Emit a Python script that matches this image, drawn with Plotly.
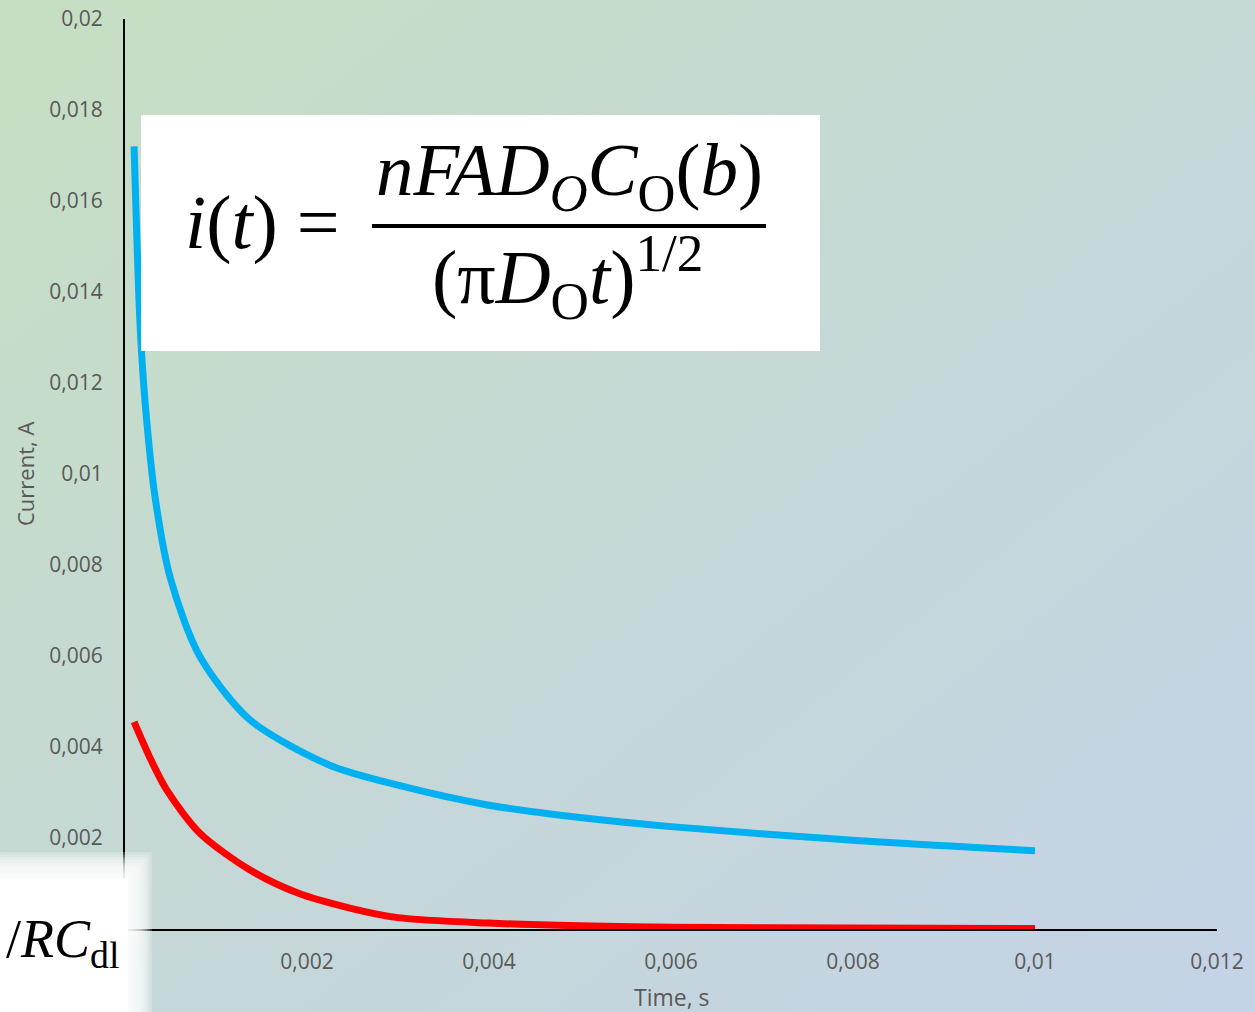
import base64
import plotly.graph_objects as go

# ---- data ----
t_blue = [0.0001, 0.000165, 0.00022, 0.00033, 0.0005, 0.00082, 0.00137, 0.00225, 0.003, 0.004, 0.005, 0.006, 0.008, 0.01]
i_blue = [0.0172, 0.0133, 0.0116, 0.0095, 0.0077, 0.0060, 0.0046, 0.0036, 0.00316, 0.00272, 0.00245, 0.00225, 0.00195, 0.00172]

t_red = [0.0001, 0.00027, 0.00046, 0.00082, 0.00137, 0.0019, 0.00247, 0.003, 0.004, 0.005, 0.006, 0.008, 0.01]
i_red = [0.00455, 0.00378, 0.00305, 0.00211, 0.0013, 0.00079, 0.00046, 0.00025, 0.00013, 0.00007, 0.00004, 0.00002, 0.00001]

# the "0" ticks are hidden under the white patch in the reference
x_tickvals = [0.002, 0.004, 0.006, 0.008, 0.01, 0.012]
x_ticktext = ["0,002", "0,004", "0,006", "0,008", "0,01", "0,012"]
y_tickvals = [0.002, 0.004, 0.006, 0.008, 0.01, 0.012, 0.014, 0.016, 0.018, 0.02]
y_ticktext = ["0,002", "0,004", "0,006", "0,008", "0,01", "0,012", "0,014", "0,016", "0,018", "0,02"]

W, H = 1255, 1012

def px(x):
    return x / W

def py(y):
    return 1 - y / H

svg = (
    '<svg xmlns="http://www.w3.org/2000/svg" width="1255" height="1012" preserveAspectRatio="none">'
    '<defs><linearGradient id="g" x1="0" y1="0" x2="1" y2="1">'
    '<stop offset="0" stop-color="#c6dfc2"/><stop offset="0.5" stop-color="#c5d8d6"/>'
    '<stop offset="1" stop-color="#c5d3e7"/></linearGradient></defs>'
    '<rect width="1255" height="1012" fill="url(#g)"/></svg>'
)
svg_uri = "data:image/svg+xml;base64," + base64.b64encode(svg.encode()).decode()

fig = go.Figure()
fig.add_trace(go.Scatter(x=t_blue, y=i_blue, mode="lines",
                         line=dict(color="#00B0F0", width=7, shape="spline", smoothing=0.8),
                         showlegend=False))
fig.add_trace(go.Scatter(x=t_red, y=i_red, mode="lines",
                         line=dict(color="#FF0000", width=7, shape="spline", smoothing=0.8),
                         showlegend=False))

tickfont = dict(family="Open Sans", size=21, color="#595959")

fig.update_layout(
    width=W, height=H, autosize=False,
    margin=dict(l=0, r=0, t=0, b=0, pad=0, autoexpand=False),
    paper_bgcolor="#c5d9d5",
    plot_bgcolor="rgba(0,0,0,0)",
    separators=",.",
    showlegend=False,
    xaxis=dict(domain=[px(125), px(1217)], range=[0, 0.012], tickvals=x_tickvals, ticktext=x_ticktext,
               showgrid=False, zeroline=False, showline=True, linecolor="black", linewidth=2,
               ticks="", tickfont=tickfont, ticklabelstandoff=13, automargin=False),
    yaxis=dict(domain=[py(929), py(19)], range=[0, 0.02], tickvals=y_tickvals, ticktext=y_ticktext,
               showgrid=False, zeroline=False, showline=True, linecolor="black", linewidth=2,
               ticks="", tickfont=tickfont, ticklabelstandoff=16, automargin=False),
    images=[dict(source=svg_uri, xref="paper", yref="paper", x=0, y=1, sizex=1, sizey=1,
                 sizing="stretch", xanchor="left", yanchor="top", layer="below")],
)

shapes = []
# formula box
shapes.append(dict(type="rect", xref="paper", yref="paper", x0=px(141), x1=px(820), y0=py(351), y1=py(115),
                   fillcolor="white", line=dict(width=0), layer="above"))
# fraction bar
shapes.append(dict(type="line", xref="paper", yref="paper", x0=px(372), x1=px(766), y0=py(226), y1=py(226),
                   line=dict(color="black", width=4), layer="above"))
# soft white box bottom-left (layered to imitate a blurred edge)
for k in range(10):
    x1 = 152 - 2.4 * k
    y0 = 852 + 2.6 * k
    shapes.append(dict(type="rect", xref="paper", yref="paper", x0=0, x1=px(x1), y0=0, y1=py(y0),
                       fillcolor="white", opacity=0.22, line=dict(width=0), layer="above"))
shapes.append(dict(type="rect", xref="paper", yref="paper", x0=0, x1=px(128), y0=0, y1=py(878),
                   fillcolor="white", line=dict(width=0), layer="above"))
fig.update_layout(shapes=shapes)

serif = "Liberation Serif"
ann = []
ann.append(dict(text="<i>i</i>(<i>t</i>) =", x=px(262), y=py(222), xref="paper", yref="paper",
                showarrow=False, xanchor="center", yanchor="middle", font=dict(family=serif, size=76, color="black")))
ann.append(dict(text="<i>nFAD</i><sub><i>O</i></sub><i>C</i><sub>O</sub>(<i>b</i>)", x=px(569), y=py(175), xref="paper", yref="paper",
                showarrow=False, xanchor="center", yanchor="middle", font=dict(family=serif, size=75, color="black")))
ann.append(dict(text="(π<i>D</i><sub>O</sub><i>t</i>)<sup>1/2</sup>", x=px(567), y=py(277), xref="paper", yref="paper",
                showarrow=False, xanchor="center", yanchor="middle", font=dict(family=serif, size=76, color="black")))
ann.append(dict(text="/<i>RC</i><sub>dl</sub>", x=px(121), y=py(942), xref="paper", yref="paper",
                showarrow=False, xanchor="right", yanchor="middle", font=dict(family=serif, size=54, color="black")))
ann.append(dict(text="Current, A", x=px(25), y=py(474), xref="paper", yref="paper", textangle=-90,
                showarrow=False, xanchor="center", yanchor="middle", font=dict(family="Open Sans", size=22, color="#595959")))
ann.append(dict(text="Time, s", x=px(672), y=py(997), xref="paper", yref="paper",
                showarrow=False, xanchor="center", yanchor="middle", font=dict(family="Open Sans", size=23, color="#595959")))
fig.update_layout(annotations=ann)

fig.write_html("out.html")
